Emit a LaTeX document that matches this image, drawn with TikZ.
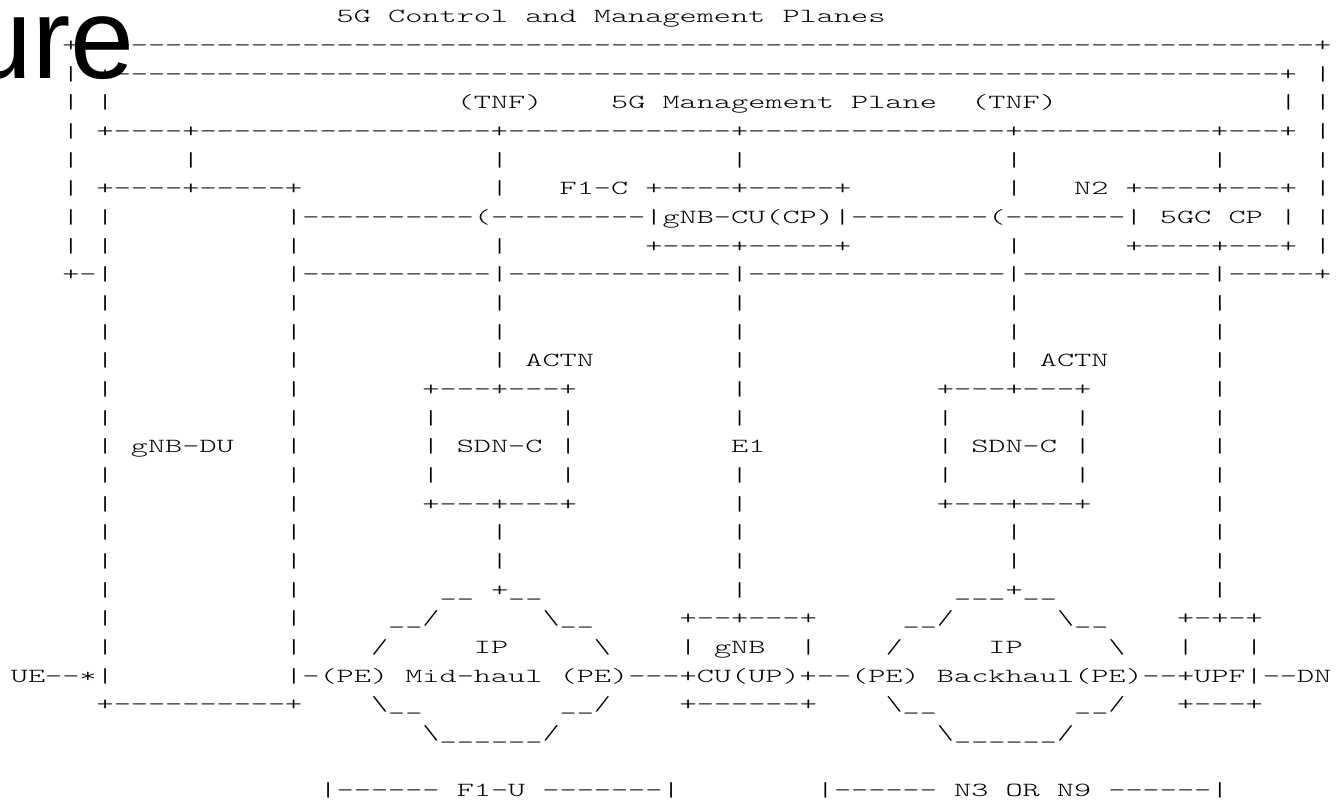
\documentclass[tikz,border=0pt]{standalone}
\usepackage{fontspec}
\newfontfamily\asciifam{lmmonolt10-regular.otf}[FakeStretch=1.633]
\newfontfamily\headfam{Liberation Sans}
\newcommand\asciifont{\asciifam\fontsize{20pt}{24pt}\selectfont}
\ExplSyntaxOn
\cs_new:Npn \dashrun #1 { \prg_replicate:nn {#1} { - } }
\ExplSyntaxOff

\begin{document}
\begin{tikzpicture}[
    x=17.15pt, y=-28.67pt,
    asc/.style={inner sep=0pt, anchor=base west, font=\asciifont},
    head/.style={inner sep=0pt, anchor=base east, font=\headfam\fontsize{115pt}{120pt}\selectfont}
]
\useasboundingbox (-19.25pt,22.8pt) rectangle ++(1338pt,-804pt);

% Caption fragment
\node[head] (caption) at (115.35pt,-55.2pt) {ure};

% Control and management planes (outer frame)
\node[asc] (ctrltitle) at (18.5,0) {5G Control and Management Planes};
\node[asc] (ctrltop) at (2.5,1) {+\dashrun{72}+};
\foreach \r in {2,...,8} \node[asc] (ctrll\r) at (2.5,\r) {|};
\foreach \r in {2,...,8} \node[asc] (ctrlr\r) at (75.5,\r) {|};
\node[asc] (ctrlbot) at (2.5,9) {+-|};

% Management plane
\node[asc] (mgmttop) at (4.5,2) {+\dashrun{68}+};
\node[asc] (mgmtl) at (4.5,3) {|};
\node[asc] (mgmtr) at (73.5,3) {|};
\node[asc] (tnfl) at (25.5,3) {(TNF)};
\node[asc] (mgmttitle) at (34.5,3) {5G Management Plane};
\node[asc] (tnfr) at (55.5,3) {(TNF)};
\node[asc] (mgmtbot) at (4.5,4) {+----+\dashrun{17}+\dashrun{13}+\dashrun{15}+\dashrun{11}+---+};
\foreach \c in {10,28,42,58,70} \node[asc] (drop\c) at (\c-0.5,5) {|};

% gNB-DU
\node[asc] (dutop) at (4.5,6) {+----+-----+};
\foreach \r in {7,8,10,11,...,22} \node[asc] (dul\r) at (4.5,\r) {|};
\foreach \r in {8,10,11,...,22} \node[asc] (dur\r) at (15.5,\r) {|};
\node[asc] (gnbdu) at (6.5,15) {gNB-DU};
\node[asc] (dubot) at (4.5,24) {+----------+};

% gNB-CU(CP) and 5GC CP
\foreach \r in {6,8} \node[asc] (tnfl\r) at (27.5,\r) {|};
\foreach \r in {6,8} \node[asc] (tnfr\r) at (57.5,\r) {|};
\node[asc] (fonec) at (31.5,6) {F1-C};
\node[asc] (cutop) at (36.5,6) {+----+-----+};
\node[asc] (cpbus) at (15.5,7) {|\dashrun{10}(\dashrun{9}|gNB-CU(CP)|\dashrun{8}(\dashrun{7}|};
\node[asc] (cubot) at (36.5,8) {+----+-----+};
\node[asc] (ntwo) at (61.5,6) {N2};
\node[asc] (coretop) at (64.5,6) {+----+---+};
\node[asc] (core) at (66.5,7) {5GC CP};
\node[asc] (corer) at (73.5,7) {|};
\node[asc] (corebot) at (64.5,8) {+----+---+};
\node[asc] (upbus) at (15.5,9) {|\dashrun{11}|\dashrun{13}|\dashrun{15}|\dashrun{11}|-----+};

% Verticals to the transport
\foreach \r in {10,11,12,18,19} \node[asc] (actnl\r) at (27.5,\r) {|};
\foreach \r in {10,11,12,18,19} \node[asc] (actnr\r) at (57.5,\r) {|};
\foreach \r in {10,...,14,16,17,...,20} \node[asc] (eone\r) at (41.5,\r) {|};
\foreach \r in {10,...,20} \node[asc] (upf\r) at (69.5,\r) {|};
\node[asc] (actnlbl) at (29.5,12) {ACTN};
\node[asc] (actnrlbl) at (59.5,12) {ACTN};
\node[asc] (eone) at (41.5,15) {E1};

% SDN controllers
\node[asc] (sdnltop) at (23.5,13) {+---+---+};
\node[asc] (sdnrtop) at (53.5,13) {+---+---+};
\foreach \r in {14,15,16} \foreach \c in {24,32,54,62} \node[asc] (sdn\c-\r) at (\c-0.5,\r) {|};
\node[asc] (sdnl) at (25.5,15) {SDN-C};
\node[asc] (sdnr) at (55.5,15) {SDN-C};
\node[asc] (sdnlbot) at (23.5,17) {+---+---+};
\node[asc] (sdnrbot) at (53.5,17) {+---+---+};

% IP mid-haul
\node[asc] (midtopa) at (24.5,20) {\_\_};
\node[asc] (midtopb) at (27.5,20) {+\_\_};
\node[asc] (midnw) at (21.5,21) {\_\_/};
\node[asc] (midne) at (30.5,21) {\textbackslash\_\_};
\node[asc] (midw) at (20.5,22) {/};
\node[asc] (midip) at (26.5,22) {IP};
\node[asc] (mide) at (33.5,22) {\textbackslash};
\node[asc] (midhaul) at (22.5,23) {Mid-haul};
\node[asc] (midsw) at (20.5,24) {\textbackslash\_\_};
\node[asc] (midse) at (31.5,24) {\_\_/};
\node[asc] (midbot) at (23.5,25) {\textbackslash\_\_\_\_\_\_/};

% gNB CU(UP)
\node[asc] (gnbtop) at (38.5,21) {+--+---+};
\node[asc] (gnbl) at (38.5,22) {|};
\node[asc] (gnb) at (40.5,22) {gNB};
\node[asc] (gnbr) at (45.5,22) {|};
\node[asc] (gnbbot) at (38.5,24) {+------+};

% IP backhaul
\node[asc] (bhtop) at (54.5,20) {\_\_\_+\_\_};
\node[asc] (bhnw) at (51.5,21) {\_\_/};
\node[asc] (bhne) at (60.5,21) {\textbackslash\_\_};
\node[asc] (bhw) at (50.5,22) {/};
\node[asc] (bhip) at (56.5,22) {IP};
\node[asc] (bhe) at (63.5,22) {\textbackslash};
\node[asc] (bhsw) at (50.5,24) {\textbackslash\_\_};
\node[asc] (bhse) at (61.5,24) {\_\_/};
\node[asc] (bhbot) at (53.5,25) {\textbackslash\_\_\_\_\_\_/};

% UPF
\node[asc] (upftop) at (67.5,21) {+-+-+};
\node[asc] (upfl) at (67.5,22) {|};
\node[asc] (upfr) at (71.5,22) {|};
\node[asc] (upfbot) at (67.5,24) {+---+};

% User plane path
\node[asc] (ue) at (-0.5,23) {UE--*|};
\node[asc] (pea) at (15.5,23) {|-(PE)};
\node[asc] (cuup) at (31.5,23) {(PE)---+CU(UP)+--(PE)};
\node[asc] (backhaul) at (53.5,23) {Backhaul(PE)--+UPF|--DN};

% Interfaces
\node[asc] (fone) at (17.5,27) {|\dashrun{6} F1-U \dashrun{7}|};
\node[asc] (nthree) at (46.5,27) {|\dashrun{6} N3 OR N9 \dashrun{6}|};

\end{tikzpicture}
\end{document}
